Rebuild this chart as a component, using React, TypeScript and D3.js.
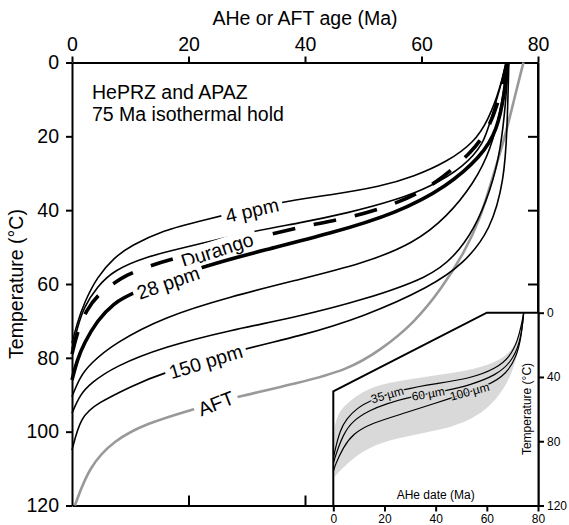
import { useEffect, useRef } from 'react';
import * as d3 from 'd3';

// [age (Ma), temperature (°C)] pairs
const ppm4 = [[0, 76], [0.9, 70.5], [2.06, 65.2], [4.34, 58.0], [7.21, 52.9], [10.1, 49.6], [15.8, 45.4], [21.5, 43.1], [35.8, 37.7], [44.4, 35.9], [53.0, 33.6], [58.7, 30.9], [64.4, 26.9], [69.0, 21.7], [71.5, 15.5], [73.5, 7.0], [74.5, 0]];
const ppmThin = [[0, 77.5], [0.9, 72], [2.0, 66.3], [4.34, 60.7], [7.21, 56.2], [12.9, 52.6], [17.5, 50.8], [31.8, 45.4], [38.7, 43.6], [47.3, 40.8], [55.8, 37.2], [61.6, 33.6], [67.3, 28.2], [70.7, 21.9], [71.8, 16.0], [73.8, 5.2], [74.6, 0]];
const durango = [[0, 79], [1.0, 72.5], [2.5, 67], [4.5, 62.8], [7.21, 59.8], [9.22, 57.6], [13.5, 55.0], [17.5, 53.0], [37.0, 45.4], [41.0, 44.0], [48.1, 41.9], [56.1, 38.1], [62.7, 32.7], [69.0, 23.7], [70.9, 19.2], [72.9, 13.0], [74.7, 0]];
const ppm28 = [[0, 86.0], [0.9, 80.5], [2.06, 76.1], [4.34, 69.8], [7.21, 65.2], [10.1, 62.5], [22.1, 55.3], [33.0, 50.8], [44.4, 46.3], [55.8, 40.8], [64.4, 33.6], [70.2, 25.5], [73.0, 18.5], [74.3, 8], [74.8, 0]];
const ppmMid1 = [[0, 90.5], [1.37, 85.1], [3.2, 81.5], [7.21, 76.1], [15.8, 68.9], [27.2, 63.4], [38.7, 58.9], [50.1, 54.4], [58.7, 49.0], [64.4, 41.8], [69.0, 32.7], [71.9, 23.7], [73.8, 11.5], [74.85, 0]];
const ppmMid2 = [[0, 95.0], [1.37, 90.0], [3.2, 86.9], [7.21, 82.4], [15.8, 77.0], [27.2, 72.5], [38.7, 68.9], [50.1, 64.3], [61.6, 58.0], [65.6, 52.6], [69.0, 45.4], [71.9, 34.5], [73.6, 23.7], [74.5, 10.2], [74.9, 0]];
const ppm150 = [[0, 105.0], [1.49, 95.9], [4.35, 92.3], [10.07, 87.8], [15.2, 84.2], [29.8, 77.4], [38.7, 74.3], [50.1, 68.9], [61.6, 60.7], [67.3, 54.4], [71.9, 45.4], [74.2, 31.8], [74.7, 18.3], [75.0, 0]];
const aft = [[0.5, 120], [2.92, 109.5], [7.21, 102.3], [12.9, 97.7], [20.4, 94.1], [28.4, 90.5], [38.7, 86.9], [47.3, 83.3], [53.0, 77.9], [58.7, 70.6], [63.3, 61.6], [67.3, 51.7], [70.2, 41.8], [71.8, 33.2], [74.2, 21.0], [75.9, 10], [77.5, 0]];

const ageTicks = [0, 20, 40, 60, 80];
const tempTicks = [0, 20, 40, 60, 80, 100, 120];

const curveLabels = [
  { text: '4 ppm', age: 30.9, temp: 40.0, angle: -13 },
  { text: 'Durango', age: 24.9, temp: 50.8, angle: -18 },
  { text: '28 ppm', age: 16.5, temp: 59.6, angle: -19 },
  { text: '150 ppm', age: 22.95, temp: 81.0, angle: -17 },
  { text: 'AFT', age: 24.7, temp: 92.3, angle: -21 },
];

// inset: AHe date vs temperature for three grain sizes
const bandUpper = [[0.5, 71], [2, 62], [5.2, 56.6], [10.4, 50.3], [16.9, 45.1], [27.3, 42.0], [40.3, 38.9], [53.3, 35.8], [62.4, 31.6], [68.9, 25.4], [72.8, 15.0], [74.5, 0]];
const bandLower = [[0.5, 102], [5.2, 94.0], [11.7, 85.7], [20.8, 79.5], [33.8, 75.3], [46.8, 71.1], [55.9, 64.9], [63.7, 54.5], [69.6, 39.9], [72.8, 21.2], [74.5, 0]];
const um35 = [[0, 91], [0.65, 85.7], [2.6, 73.2], [5.2, 65.9], [9.1, 59.7], [14.3, 54.5], [28.0, 47.2], [40.3, 44.1], [53.3, 41.0], [63.7, 34.7], [69.0, 27.5], [72.2, 17.1], [73.9, 4.6], [74.4, 0]];
const um60 = [[0, 94], [0.65, 89.9], [3.9, 75.3], [7.8, 67.0], [14.3, 60.7], [20.8, 56.6], [29.9, 52.4], [44.9, 48.3], [53.3, 45.1], [63.7, 38.9], [69.6, 30.6], [72.9, 19.1], [74.2, 4.6], [74.4, 0]];
const um100 = [[0, 99], [0.65, 95], [3.9, 83.6], [7.8, 75.3], [14.3, 69.1], [27.3, 62.8], [45.5, 53.5], [61.1, 45.1], [67.7, 37.9], [71.6, 27.5], [73.5, 15.0], [74.4, 0]];
const insetFrame = [[0, 120], [0, 49], [60, 0], [80, 0]];
const insetAgeTicks = [0, 20, 40, 60, 80];
const insetTempTicks = [0, 40, 80, 120];
const insetLabels = [
  { text: '35 µm', age: 21.1, temp: 51.2, angle: -16 },
  { text: '60 µm', age: 37.1, temp: 50.6, angle: -10 },
  { text: '100 µm', age: 53.3, temp: 49.2, angle: -15 },
];

const FONT = '"Liberation Sans", Arial, Helvetica, sans-serif';

function App() {
  const ref = useRef<SVGSVGElement>(null);

  useEffect(() => {
    const svg = d3.select(ref.current);
    svg.selectAll('*').remove();

    const x = d3.scaleLinear().domain([0, 80]).range([72, 538]);
    const y = d3.scaleLinear().domain([0, 120]).range([62.5, 505.5]);
    const ix = d3.scaleLinear().domain([0, 80]).range([333.3, 538]);
    const iy = d3.scaleLinear().domain([0, 120]).range([312.7, 505.5]);

    const line = d3.line<number[]>()
      .x(d => x(d[0]))
      .y(d => y(d[1]))
      .curve(d3.curveBasis);
    const iline = d3.line<number[]>()
      .x(d => ix(d[0]))
      .y(d => iy(d[1]))
      .curve(d3.curveBasis);

    const styleAxis = (size: number) => (g: any) => {
      g.select('.domain').attr('stroke-width', 2);
      g.selectAll('.tick line').attr('stroke-width', 2);
      g.selectAll('text').attr('font-family', FONT).attr('font-size', size).attr('fill', '#000');
    };

    // main axes
    svg.append('g').attr('transform', 'translate(0,62.5)')
      .call(d3.axisTop(x).tickValues(ageTicks).tickSize(6).tickSizeOuter(0).tickPadding(6))
      .call(styleAxis(19.5));
    svg.append('g').attr('transform', 'translate(72,0)')
      .call(d3.axisLeft(y).tickValues(tempTicks).tickSize(6).tickSizeOuter(0).tickPadding(7))
      .call(styleAxis(19.5));
    svg.append('g').attr('transform', 'translate(0,505.5)')
      .call(d3.axisBottom(x).tickValues([20, 40, 60]).tickSize(-10).tickSizeOuter(0).tickFormat(() => ''))
      .call(styleAxis(19.5));
    svg.append('g').attr('transform', 'translate(538,0)')
      .call(d3.axisRight(y).tickValues([20, 40, 60, 80, 100]).tickSize(-10).tickSizeOuter(0).tickFormat(() => ''))
      .call(styleAxis(19.5));

    // curves
    const curves = svg.append('g').attr('fill', 'none').attr('stroke-linecap', 'butt');
    curves.append('path').attr('d', line(aft)).attr('stroke', '#999').attr('stroke-width', 2.6);
    [ppm4, ppmThin, ppmMid1, ppmMid2, ppm150].forEach(c => {
      curves.append('path').attr('d', line(c)).attr('stroke', '#000').attr('stroke-width', 1.6);
    });
    curves.append('path').attr('d', line(durango)).attr('stroke', '#000').attr('stroke-width', 3.6)
      .attr('stroke-dasharray', '23,19');
    curves.append('path').attr('d', line(ppm28)).attr('stroke', '#000').attr('stroke-width', 3.6);

    // labels sitting on the curves
    curveLabels.forEach(l => {
      const g = svg.append('g')
        .attr('transform', `translate(${x(l.age)},${y(l.temp)}) rotate(${l.angle})`);
      const rect = g.append('rect').attr('fill', '#fff');
      const t = g.append('text')
        .attr('text-anchor', 'middle')
        .attr('dominant-baseline', 'central')
        .attr('font-family', FONT)
        .attr('font-size', 19.5)
        .text(l.text);
      const w = (t.node() as SVGTextElement).getComputedTextLength();
      rect.attr('x', -w / 2 - 4).attr('y', -10).attr('width', w + 8).attr('height', 20);
    });

    svg.append('text').attr('x', 92).attr('y', 98.5)
      .attr('font-family', FONT).attr('font-size', 19.5).text('HePRZ and APAZ');
    svg.append('text').attr('x', 92).attr('y', 120.5)
      .attr('font-family', FONT).attr('font-size', 19.5).text('75 Ma isothermal hold');
    svg.append('text').attr('x', 305).attr('y', 25).attr('text-anchor', 'middle')
      .attr('font-family', FONT).attr('font-size', 19.5).text('AHe or AFT age (Ma)');
    svg.append('text').attr('transform', 'translate(23,284) rotate(-90)').attr('text-anchor', 'middle')
      .attr('font-family', FONT).attr('font-size', 19.5).text('Temperature (°C)');

    // inset
    const framePts = insetFrame.map(d => [ix(d[0]), iy(d[1])]);
    svg.append('path')
      .attr('d', d3.line()([...framePts, [ix(80), iy(120)]] as [number, number][]) + 'Z')
      .attr('fill', '#fff');
    const bandPath = iline(bandUpper) + (iline(bandLower.slice().reverse()) as string).replace('M', 'L') + 'Z';
    svg.append('path').attr('d', bandPath).attr('fill', '#d9d9d9');
    [um35, um60, um100].forEach(c => {
      svg.append('path').attr('d', iline(c)).attr('fill', 'none').attr('stroke', '#000').attr('stroke-width', 1.2);
    });
    insetLabels.forEach(l => {
      svg.append('text')
        .attr('transform', `translate(${ix(l.age)},${iy(l.temp)}) rotate(${l.angle})`)
        .attr('text-anchor', 'middle')
        .attr('dominant-baseline', 'central')
        .attr('font-family', FONT)
        .attr('font-size', 12)
        .attr('stroke', '#d9d9d9')
        .attr('stroke-width', 2.5)
        .attr('paint-order', 'stroke')
        .attr('stroke-linejoin', 'round')
        .text(l.text);
    });
    svg.append('path').attr('d', d3.line()(framePts as [number, number][]))
      .attr('fill', 'none').attr('stroke', '#000').attr('stroke-width', 2);

    svg.append('g').attr('transform', 'translate(0,505.5)')
      .call(d3.axisBottom(ix).tickValues(insetAgeTicks).tickSize(6).tickSizeOuter(0).tickPadding(3))
      .call(styleAxis(12));
    svg.append('g').attr('transform', 'translate(538,0)')
      .call(d3.axisRight(iy).tickValues(insetTempTicks).tickSize(6).tickSizeOuter(0).tickPadding(3))
      .call(styleAxis(12));
    // main right border above the inset
    svg.append('line').attr('x1', 538).attr('x2', 538).attr('y1', 62.5).attr('y2', 312.7)
      .attr('stroke', '#000').attr('stroke-width', 2);

    svg.append('text').attr('x', 435.7).attr('y', 498.5).attr('text-anchor', 'middle')
      .attr('font-family', FONT).attr('font-size', 12).text('AHe date (Ma)');
    svg.append('text').attr('transform', 'translate(531,409) rotate(-90)').attr('text-anchor', 'middle')
      .attr('font-family', FONT).attr('font-size', 12).text('Temperature (°C)');
  }, []);

  return (
    <svg ref={ref} width={569} height={525}
      style={{ position: 'absolute', left: 0, top: 0, background: '#fff' }} />
  );
}

export default App;
